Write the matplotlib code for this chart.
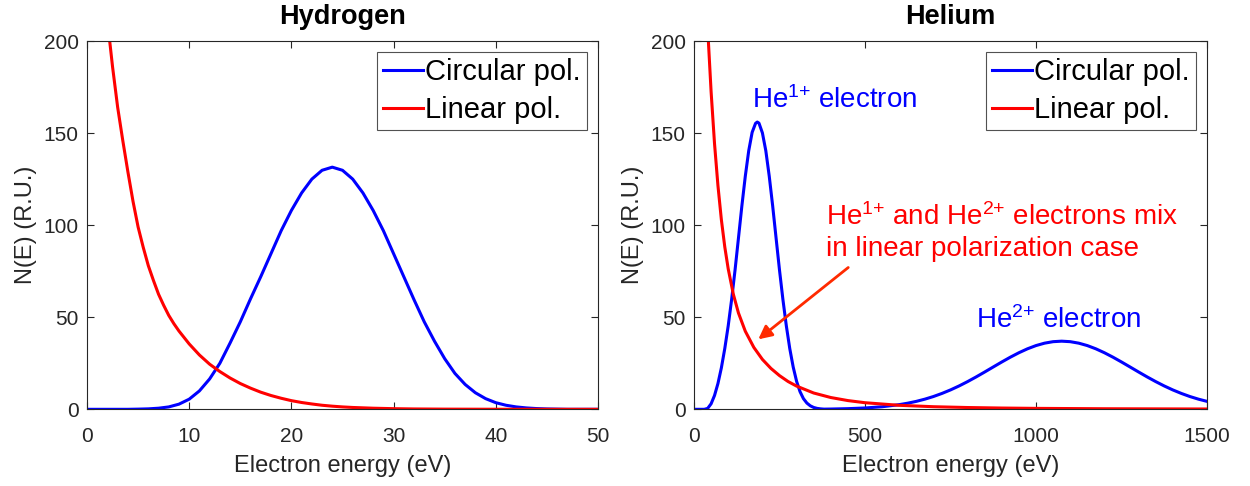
import matplotlib
matplotlib.use("Agg")
import matplotlib.pyplot as plt

plt.rcParams['font.family'] = ['Liberation Sans', 'DejaVu Sans']
plt.rcParams['mathtext.fontset'] = 'custom'
plt.rcParams['mathtext.rm'] = 'Liberation Sans'
plt.rcParams['mathtext.it'] = 'Liberation Sans:italic'
plt.rcParams['mathtext.bf'] = 'Liberation Sans:bold'

# ---------------- Hydrogen ----------------
h_circ_x = [0, 1, 2, 3, 4, 5, 6, 7, 8, 9, 10, 11, 12, 13, 14, 15, 16, 17, 18, 19,
            20, 21, 22, 23, 24, 25, 26, 27, 28, 29, 30, 31, 32, 33, 34, 35, 36, 37,
            38, 39, 40, 41, 42, 43, 44, 45, 46, 47, 48, 49, 50]
h_circ_y = [0, 0, 0, 0, 0, 0.1, 0.25, 0.6, 1.3, 2.8, 5.5, 10, 16.5, 25, 36, 47.5,
            60, 72, 84.5, 97, 108, 117.5, 125, 129.8, 131.5, 129.8, 125, 117.5, 108,
            97, 84.5, 72, 59.5, 47.5, 37, 27.5, 19.5, 13.5, 9, 5.8, 3.6, 2.2, 1.3,
            0.75, 0.4, 0.2, 0.1, 0, 0, 0, 0]

h_lin_x = [2.0, 2.5, 3.0, 3.5, 4.0, 4.5, 5.0, 5.5, 6.0, 6.5, 7.0, 7.5, 8.0, 8.5, 9.0,
           9.5, 10, 11, 12, 13, 14, 15, 16, 17, 18, 19, 20, 21, 22, 23, 24, 25, 26,
           27, 28, 30, 32, 35, 40, 45, 50]
h_lin_y = [211, 186, 164, 146, 129, 113, 99, 88, 78, 70, 62.5, 56.5, 51, 46.5, 42.5,
           39, 35.5, 29.5, 24.5, 20.5, 17, 14, 11.5, 9.3, 7.5, 6, 4.7, 3.7, 2.9, 2.2,
           1.7, 1.3, 1.0, 0.8, 0.6, 0.35, 0.2, 0.1, 0.03, 0.01, 0]

# ---------------- Helium ----------------
he_circ_x = [0, 10, 20, 30, 40, 50, 60, 70, 80, 90, 100, 110, 120, 130, 140, 150,
             160, 170, 180, 185, 190, 200, 210, 220, 230, 240, 250, 260, 270, 280,
             290, 300, 310, 320, 330, 340, 350, 360, 370, 380, 400, 450, 500, 550,
             600, 625, 650, 675, 700, 725, 750, 775, 800, 825, 850, 875, 900, 925,
             950, 975, 1000, 1025, 1050, 1075, 1100, 1125, 1150, 1175, 1200, 1225,
             1250, 1275, 1300, 1325, 1350, 1375, 1400, 1425, 1450, 1475, 1500]
he_circ_y = [0, 0, 0, 0, 0.5, 3, 7.5, 14, 22.5, 33, 45.3, 59.6, 75.6, 93, 110.5,
             126.6, 140.4, 150.4, 155.3, 156, 155.4, 150.1, 140.4, 126.6, 110.5, 93,
             75.6, 59.6, 45.3, 33, 23, 15.2, 9.6, 5.8, 3.4, 1.9, 1.0, 0.5, 0.25, 0.1,
             0.15, 0.35, 0.72, 1.39, 2.53, 3.33, 4.31, 5.51, 6.94, 8.62, 10.53,
             12.68, 15.05, 17.59, 20.26, 22.99, 25.7, 28.31, 30.72, 32.85, 34.61,
             35.92, 36.73, 37, 36.73, 35.92, 34.61, 32.85, 30.72, 28.31, 25.7, 22.99,
             20.26, 17.59, 15.05, 12.68, 10.53, 8.62, 6.94, 5.51, 4.31]

he_lin_x = [35, 42, 50, 60, 70, 80, 90, 100, 115, 130, 150, 175, 200, 225, 250,
            275, 300, 350, 400, 450, 500, 600, 700, 800, 900, 1000, 1200, 1500]
he_lin_y = [228, 200, 172.5, 144.3, 121.5, 103, 88.2, 76.3, 62.5, 52.3, 42.4, 33.6,
            27.1, 22.2, 18.3, 15.1, 12.6, 8.85, 6.4, 4.74, 3.58, 2.17, 1.41, 0.97,
            0.69, 0.51, 0.31, 0.17]

h_xticks = [0, 10, 20, 30, 40, 50]
he_xticks = [0, 500, 1000, 1500]
yticks = [0, 50, 100, 150, 200]

AXC = '#262626'
BLUE = '#0000ff'
RED = '#ff0000'

fig = plt.figure(figsize=(12.5, 4.86), dpi=100)
ax1 = fig.add_axes([0.0696, 0.1578, 0.4088, 0.7578])
ax2 = fig.add_axes([0.5552, 0.1578, 0.4104, 0.7578])


def style(ax, xlim, xticks, title):
    ax.set_xlim(*xlim)
    ax.set_ylim(0, 200)
    ax.set_xticks(xticks)
    ax.set_yticks(yticks)
    ax.tick_params(direction='in', top=True, right=True, length=5, width=0.8,
                   colors=AXC, labelsize=15)
    ax.tick_params(axis='x', pad=13)
    ax.tick_params(axis='y', pad=6)
    for s in ax.spines.values():
        s.set_color(AXC)
        s.set_linewidth(0.8)
    ax.set_xlabel('Electron energy (eV)', fontsize=17, color=AXC, labelpad=6)
    ax.set_ylabel('N(E) (R.U.)', fontsize=17, color=AXC, labelpad=5)
    ax.set_title(title, fontsize=19.5, fontweight='bold', pad=12)


ax1.plot(h_circ_x, h_circ_y, color=BLUE, lw=2.2, label='Circular pol.')
ax1.plot(h_lin_x, h_lin_y, color=RED, lw=2.2, label='Linear pol.')
style(ax1, (0, 50), h_xticks, 'Hydrogen')

ax2.plot(he_circ_x, he_circ_y, color=BLUE, lw=2.2, label='Circular pol.')
ax2.plot(he_lin_x, he_lin_y, color=RED, lw=2.2, label='Linear pol.')
style(ax2, (0, 1500), he_xticks, 'Helium')

for ax in (ax1, ax2):
    leg = ax.legend(loc='upper right', fontsize=21, frameon=True, fancybox=False,
                    edgecolor=AXC, handlelength=1.35, handletextpad=0.1,
                    borderpad=0.2, labelspacing=0.36, borderaxespad=0.38)
    leg.get_frame().set_linewidth(0.8)

ax2.text(169, 163.8, r'He$^{1{+}}$ electron', color=BLUE, fontsize=20,
         ha='left', va='baseline')
ax2.text(825, 44, r'He$^{2{+}}$ electron', color=BLUE, fontsize=20,
         ha='left', va='baseline')
ax2.text(386, 100.2, r'He$^{1{+}}$ and He$^{2{+}}$ electrons mix', color=RED,
         fontsize=20, ha='left', va='baseline')
ax2.text(386, 83.3, 'in linear polarization case', color=RED, fontsize=20,
         ha='left', va='baseline')
ax2.annotate('', xy=(188, 38), xytext=(451, 77),
             arrowprops=dict(arrowstyle='-|>', color='#ff2a00', lw=2,
                             mutation_scale=20, shrinkA=0, shrinkB=0))

fig.savefig('out.png', dpi=100)
